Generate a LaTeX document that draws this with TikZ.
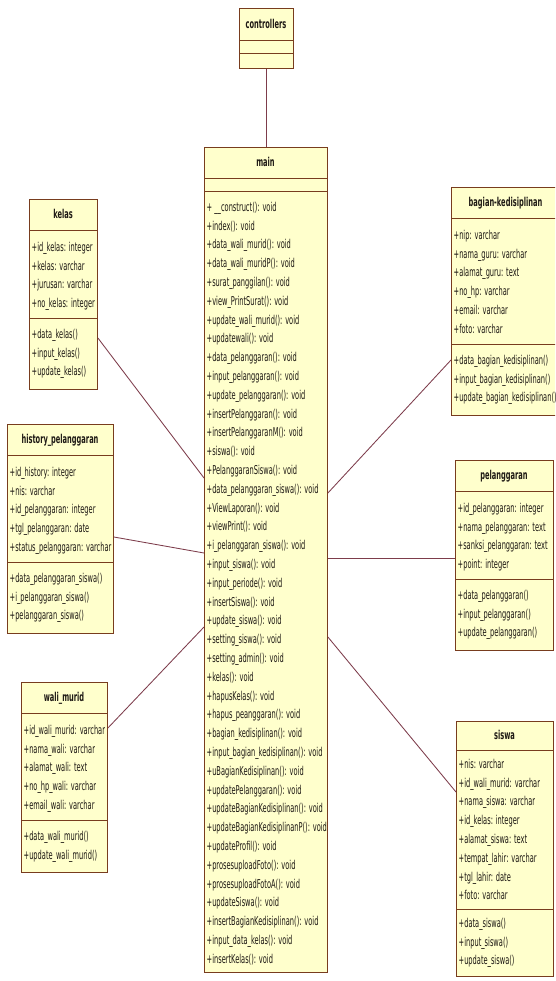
\documentclass[tikz,border=0pt]{standalone}
\usepackage{fontspec}
\newfontfamily\umlf{DejaVu Sans}[FakeStretch=0.545]
\definecolor{boxfill}{RGB}{255,255,204}
\definecolor{boxline}{RGB}{120,60,30}
\definecolor{connline}{RGB}{125,60,75}
\definecolor{txtcol}{RGB}{30,25,20}
\tikzset{
  box/.style={draw=boxline, fill=boxfill, line width=0.9pt, inner sep=0pt, anchor=north west},
  sepl/.style={draw=boxline, line width=0.9pt},
  txt/.style={anchor=base west, inner sep=0pt, font=\umlf\fontsize{12.2}{14}\selectfont, text=txtcol},
  ttl/.style={anchor=base, inner sep=0pt, font=\umlf\bfseries\fontsize{12.2}{14}\selectfont, text=txtcol},
  conn/.style={draw=connline, line width=0.85pt}
}
% #1 name, #2 left, #3 right, #4 top, #5 bottom, #6 title, #7 sep1, #8 sep2
\newcommand{\uclass}[8]{%
  \node[box, minimum width={#3-#2}, minimum height={#5-#4}] (#1) at (#2,#4) {};
  \draw[sepl] (#2,#7) -- (#3,#7);
  \draw[sepl] (#2,#8) -- (#3,#8);
  \node[ttl] (#1-title) at ({(#2+#3)/2},{(#4+#7)/2+4.3}) {#6};
}
% #1 prefix, #2 x, #3 first centre y, #4 list
\newcommand{\ulines}[4]{%
  \foreach \t [count=\i from 0] in {#4} {\node[txt] (#1\i) at (#2,{#3+\i*18.8+4.3}) {\t};}
}
\begin{document}
\begin{tikzpicture}[x=1pt,y=-1pt]
\useasboundingbox (0,0) rectangle (555,981);
\clip (0,0) rectangle (555,981);
\fill[white] (0,0) rectangle (555,981);

% controllers
\uclass{controllers}{239}{293}{8}{68}{controllers}{40}{53}

% main
\uclass{main}{204}{327}{147}{972}{main}{178}{191}
\ulines{m}{206.5}{207}{+ \_\_construct(): void, +index(): void, +data\_wali\_murid(): void, +data\_wali\_muridP(): void, +surat\_panggilan(): void, +view\_PrintSurat(): void, +update\_wali\_murid(): void, +updatewali(): void, +data\_pelanggaran(): void, +input\_pelanggaran(): void, +update\_pelanggaran(): void, +insertPelanggaran(): void, +insertPelanggaranM(): void, +siswa(): void, +PelanggaranSiswa(): void, +data\_pelanggaran\_siswa(): void, +ViewLaporan(): void, +viewPrint(): void, +i\_pelanggaran\_siswa(): void, +input\_siswa(): void, +input\_periode(): void, +insertSiswa(): void, +update\_siswa(): void, +setting\_siswa(): void, +setting\_admin(): void, +kelas(): void, +hapusKelas(): void, +hapus\_peanggaran(): void, +bagian\_kedisiplinan(): void, +input\_bagian\_kedisiplinan(): void, +uBagianKedisiplinan(): void, +updatePelanggaran(): void, +updateBagianKedisiplinan(): void, +updateBagianKedisiplinanP(): void, +updateProfil(): void, +prosesuploadFoto(): void, +prosesuploadFotoA(): void, +updateSiswa(): void, +insertBagianKedisiplinan(): void, +input\_data\_kelas(): void, +insertKelas(): void}

% kelas
\uclass{kelas}{29}{97}{199}{389}{kelas}{230}{318}
\ulines{ka}{31.5}{247}{+id\_kelas: integer, +kelas: varchar, +jurusan: varchar, +no\_kelas: integer}
\ulines{km}{31.5}{334}{+data\_kelas(), +input\_kelas(), +update\_kelas()}

% history_pelanggaran
\uclass{history}{7}{113}{424}{633}{history\_pelanggaran}{455}{562}
\ulines{ha}{9.5}{472}{+id\_history: integer, +nis: varchar, +id\_pelanggaran: integer, +tgl\_pelanggaran: date, +status\_pelanggaran: varchar}
\ulines{hm}{9.5}{578}{+data\_pelanggaran\_siswa(), +i\_pelanggaran\_siswa(), +pelanggaran\_siswa()}

% wali_murid
\uclass{wali}{21}{107}{682}{872}{wali\_murid}{713}{820}
\ulines{wa}{23.5}{730}{+id\_wali\_murid: varchar, +nama\_wali: varchar, +alamat\_wali: text, +no\_hp\_wali: varchar, +email\_wali: varchar}
\ulines{wm}{23.5}{836}{+data\_wali\_murid(), +update\_wali\_murid()}

% bagian-kedisiplinan
\uclass{bagian}{451}{560}{187}{415}{bagian-kedisiplinan}{218}{344}
\ulines{ba}{453.5}{235}{+nip: varchar, +nama\_guru: varchar, +alamat\_guru: text, +no\_hp: varchar, +email: varchar, +foto: varchar}
\ulines{bm}{453.5}{360}{+data\_bagian\_kedisiplinan(), +input\_bagian\_kedisiplinan(), +update\_bagian\_kedisiplinan()}

% pelanggaran
\uclass{pel}{455}{553}{460}{650}{pelanggaran}{491}{579}
\ulines{pa}{457.5}{508}{+id\_pelanggaran: integer, +nama\_pelanggaran: text, +sanksi\_pelanggaran: text, +point: integer}
\ulines{pm}{457.5}{595}{+data\_pelanggaran(), +input\_pelanggaran(), +update\_pelanggaran()}

% siswa
\uclass{siswa}{456}{553}{721}{976}{siswa}{750}{909}
\ulines{sa}{458.5}{764}{+nis: varchar, +id\_wali\_murid: varchar, +nama\_siswa: varchar, +id\_kelas: integer, +alamat\_siswa: text, +tempat\_lahir: varchar, +tgl\_lahir: date, +foto: varchar}
\ulines{sm}{458.5}{923}{+data\_siswa(), +input\_siswa(), +update\_siswa()}

% connectors
\draw[conn] (controllers.south) -- (main.north -| controllers.south);
\draw[conn] (kelas.east |- 0,338) -- (main.west |- 0,478);
\draw[conn] (history.east |- 0,537) -- (main.west |- 0,553);
\draw[conn] (wali.east |- 0,728) -- (main.west |- 0,627);
\draw[conn] (bagian.west |- 0,360) -- (main.east |- 0,493);
\draw[conn] (main.east |- 0,558) -- (pel.west |- 0,558);
\draw[conn] (main.east |- 0,637) -- (siswa.west |- 0,792);
\end{tikzpicture}
\end{document}
